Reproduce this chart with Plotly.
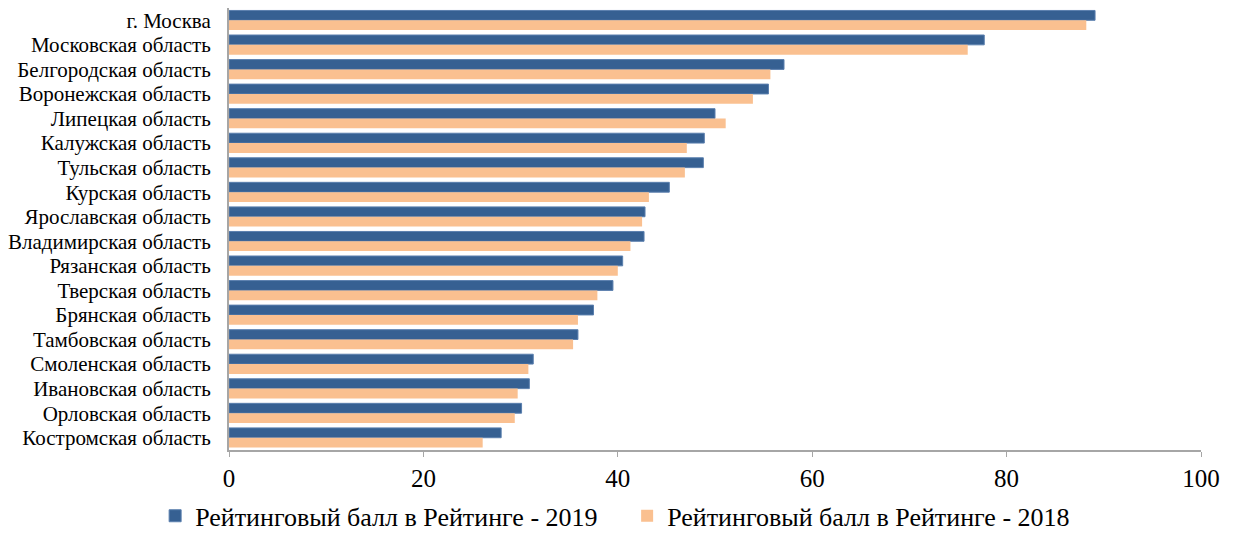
import plotly.graph_objects as go

regions = ["г. Москва", "Московская область", "Белгородская область", "Воронежская область",
           "Липецкая область", "Калужская область", "Тульская область", "Курская область",
           "Ярославская область", "Владимирская область", "Рязанская область", "Тверская область",
           "Брянская область", "Тамбовская область", "Смоленская область", "Ивановская область",
           "Орловская область", "Костромская область"]
score_2019 = [89.1, 77.7, 57.1, 55.5, 50.0, 48.9, 48.8, 45.3, 42.8, 42.7, 40.5, 39.5,
              37.5, 35.9, 31.3, 30.9, 30.1, 28.0]
score_2018 = [88.2, 76.0, 55.7, 53.9, 51.1, 47.1, 46.9, 43.2, 42.5, 41.3, 40.0, 37.9,
              35.9, 35.4, 30.8, 29.7, 29.4, 26.1]
name_2019 = "Рейтинговый балл в Рейтинге - 2019"
name_2018 = "Рейтинговый балл в Рейтинге - 2018"
x_ticks = [0, 20, 40, 60, 80, 100]

fig = go.Figure()
fig.add_trace(go.Bar(y=regions, x=score_2019, orientation="h", name=name_2019,
                     marker=dict(color="#366092", line=dict(color="#5a7fae", width=1))))
fig.add_trace(go.Bar(y=regions, x=score_2018, orientation="h", name=name_2018,
                     marker=dict(color="#FAC090", line=dict(width=0))))

fig.update_layout(
    width=1227, height=526,
    margin=dict(l=221, r=34, t=0, b=84, autoexpand=False),
    paper_bgcolor="white", plot_bgcolor="white",
    barmode="group", bargap=0.2, bargroupgap=0,
    font=dict(family="Liberation Serif", color="black", size=21),
    showlegend=True,
    legend=dict(orientation="h", x=-0.076, xanchor="left", y=-0.149, yanchor="middle",
                font=dict(size=26), traceorder="normal", itemwidth=30,
                entrywidthmode="pixels", entrywidth=427, borderwidth=0),
    xaxis=dict(range=[0, 100], tickvals=x_ticks, showgrid=False, zeroline=False,
               showline=True, linecolor="#a6a6a6", linewidth=2,
               ticks="outside", ticklen=5, tickcolor="#a6a6a6",
               tickfont=dict(size=25), ticklabelstandoff=0, automargin=False),
    yaxis=dict(autorange="reversed", tickmode="array", tickvals=regions,
               showgrid=False, showline=True, linecolor="#a6a6a6",
               linewidth=2, ticks="", tickfont=dict(size=21), ticklabelstandoff=12,
               automargin=False),
)

fig.write_html("out.html")
